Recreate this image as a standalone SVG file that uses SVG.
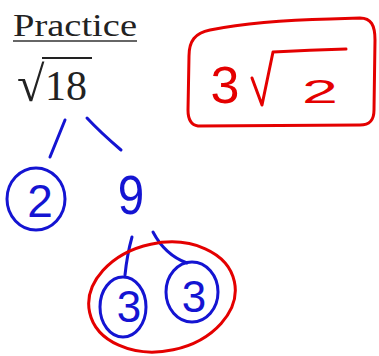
<svg xmlns="http://www.w3.org/2000/svg" width="379" height="356" viewBox="0 0 379 356">
<style>
.blue{fill:none;stroke:#1414d2;stroke-width:3;stroke-linecap:round;stroke-linejoin:round}
.red{fill:none;stroke:#e40000;stroke-width:3;stroke-linecap:round;stroke-linejoin:round}
.bt{fill:#1414d2;font-family:"Liberation Sans",Arial,sans-serif;text-anchor:middle}
.rt{fill:#e40000;font-family:"Liberation Sans",Arial,sans-serif;text-anchor:middle}
.pr{fill:#222;font-family:"Liberation Serif","Times New Roman",serif}
</style>
<rect width="379" height="356" fill="#fff"/>
<g id="title">
<text class="pr" x="13" y="36" font-size="32" textLength="124" lengthAdjust="spacingAndGlyphs">Practice</text>
<line x1="13" y1="41" x2="137" y2="41" stroke="#333" stroke-width="1.5"/>
</g>
<g id="n18">
<text class="pr" x="17" y="101" font-size="42"><tspan font-size="50">√</tspan><tspan x="45" y="100">18</tspan></text>
<line x1="42" y1="58" x2="92" y2="58" stroke="#222" stroke-width="2"/>
</g>
<g id="answer">
<path class="red" d="M198,126 C191,125 188,119 188,110 L189,56 C189,41 195,33 210,30 C240,24 280,20 330,19 L360,18 C371,18 375,25 375,40 L374,110 C374,120 370,125 360,125 Z"/>
<text class="rt" x="225" y="103" font-size="52">3</text>
<path class="red" d="M252,78 L262,105 L273,52 Q310,50 346,49"/>
<text class="rt" transform="translate(320,103) scale(1.7,0.85)" font-size="38">2</text>
</g>
<g id="connectors">
<path class="blue" d="M65,120 L50,157"/>
<path class="blue" d="M87,118 Q100,132 121,150"/>
<path class="blue" d="M132,237 Q127,255 125,275"/>
<path class="blue" d="M153,232 Q165,255 187,263"/>
</g>
<g id="n2">
<ellipse class="blue" cx="36" cy="199" rx="29" ry="31"/>
<text class="bt" x="40" y="217" font-size="46">2</text>
</g>
<g id="n9">
<text class="bt" transform="translate(131,214) scale(0.85,1)" font-size="56">9</text>
</g>
<g id="n3a">
<ellipse class="blue" cx="123" cy="307" rx="23" ry="30"/>
<text class="bt" x="129" y="322" font-size="44">3</text>
</g>
<g id="n3b">
<ellipse class="blue" cx="192" cy="292" rx="26" ry="30"/>
<text class="bt" x="194" y="312" font-size="44">3</text>
</g>
<g id="group">
<ellipse class="red" cx="162" cy="297" rx="74" ry="54" transform="rotate(-12 162 297)"/>
</g>
</svg>
